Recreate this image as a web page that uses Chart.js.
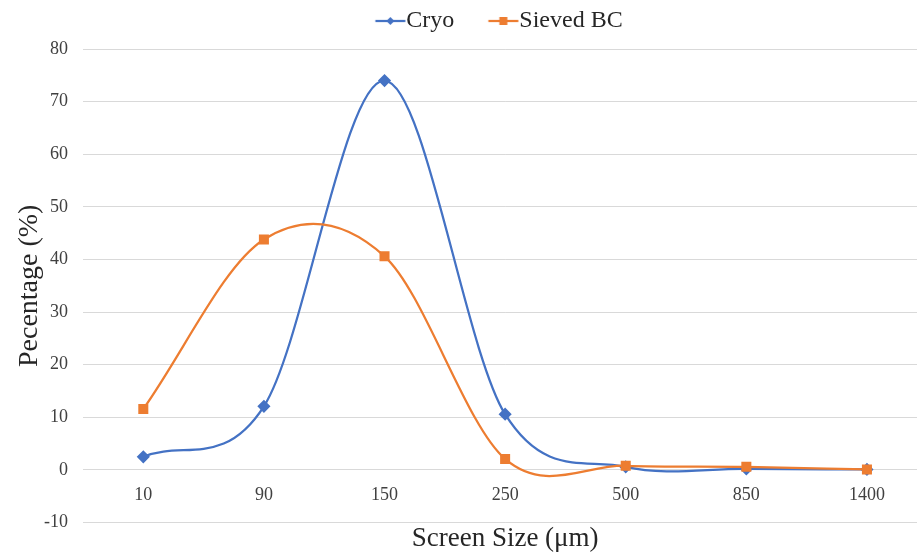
<!DOCTYPE html>
<html>
<head>
<meta charset="utf-8">
<script src="https://cdn.jsdelivr.net/npm/chart.js@4/dist/chart.umd.min.js"></script>
<style>
  html, body { margin: 0; padding: 0; background: #fff; overflow: hidden; }
  #wrap { width: 935px; height: 557px; }
</style>
</head>
<body>
<div id="wrap"><canvas id="sizeChart" width="935" height="557"></canvas></div>
<script>
// Screen sizes (µm) and % retained for each sample
const screenSizes = ['10', '90', '150', '250', '500', '850', '1400'];
const cryoValues = [2.5, 12.1, 74.0, 10.6, 0.6, 0.2, 0.1];
const sievedValues = [11.6, 43.8, 40.6, 2.1, 0.8, 0.6, 0.1];
const yTicks = [-10, 0, 10, 20, 30, 40, 50, 60, 70, 80];

const BLUE = '#4472C4';
const ORANGE = '#ED7D31';
const SERIF = '"Liberation Serif", "Times New Roman", serif';

// legend icon: short line with the marker in the middle, sitting right against the label
function legendIcon(color, shape) {
    const c = document.createElement('canvas');
    c.width = 72; c.height = 14;
    const g = c.getContext('2d');
    const x0 = 40.5, x1 = 70.5, mid = (x0 + x1) / 2;
    g.strokeStyle = color;
    g.lineWidth = 2.25;
    g.beginPath(); g.moveTo(x0, 7); g.lineTo(x1, 7); g.stroke();
    g.fillStyle = color;
    if (shape === 'diamond') {
        g.beginPath(); g.moveTo(mid, 3); g.lineTo(mid + 4, 7); g.lineTo(mid, 11); g.lineTo(mid - 4, 7); g.closePath(); g.fill();
    } else {
        g.fillRect(mid - 4, 3, 8, 8);
    }
    return c;
}

// keep the legend centred over the plot area rather than the whole canvas
const legendShift = {
    id: 'legendShift',
    afterLayout(ch) { ch.legend.left += 35; }
};

// Catmull-Rom style control points (1/6 of neighbour span, mirrored end points),
// like office "smoothed line"
const smoothLine = {
    id: 'smoothLine',
    beforeDatasetsDraw(ch) {
        ch.getSortedVisibleDatasetMetas().forEach(meta => {
            meta.dataset.updateControlPoints(ch.chartArea, meta.iScale.axis);
            const pts = meta.data;
            pts.forEach((p, i) => {
                const a = pts[i - 1] || p;
                const b = pts[i + 1] || p;
                const k = (i === 0 || i === pts.length - 1) ? 3 : 6;
                const dx = (b.x - a.x) / k;
                const dy = (b.y - a.y) / k;
                p.cp1x = p.x - dx; p.cp1y = p.y - dy;
                p.cp2x = p.x + dx; p.cp2y = p.y + dy;
            });
        });
    }
};

const ctx = document.getElementById('sizeChart').getContext('2d');
const chart = new Chart(ctx, {
    type: 'line',
    data: {
        labels: screenSizes,
        datasets: [
            {
                label: 'Cryo',
                data: cryoValues,
                borderColor: BLUE,
                backgroundColor: BLUE,
                borderWidth: 2.25,
                pointStyle: 'rectRot',
                pointRadius: 5,
                pointHoverRadius: 5,
                tension: 0.4,
                fill: false,
                order: 1,
                legendIcon: legendIcon(BLUE, 'diamond')
            },
            {
                label: 'Sieved BC',
                data: sievedValues,
                borderColor: ORANGE,
                backgroundColor: ORANGE,
                borderWidth: 2.25,
                pointStyle: 'rect',
                pointRadius: 5.5,
                pointHoverRadius: 5.5,
                tension: 0.4,
                fill: false,
                order: 0,
                legendIcon: legendIcon(ORANGE, 'square')
            }
        ]
    },
    plugins: [legendShift, smoothLine],
    options: {
        responsive: false,
        animation: false,
        layout: { padding: { top: 3, left: 0, right: 0, bottom: 0 } },
        plugins: {
            legend: {
                position: 'top',
                align: 'center',
                labels: {
                    usePointStyle: true,
                    pointStyleWidth: 47,
                    padding: 6,
                    color: '#262626',
                    font: { family: SERIF, size: 24 },
                    generateLabels: (ch) => ch.data.datasets.map((ds, i) => ({
                        text: ds.label,
                        pointStyle: ds.legendIcon,
                        fillStyle: ds.borderColor,
                        strokeStyle: ds.borderColor,
                        fontColor: '#262626',
                        lineWidth: 0,
                        hidden: false,
                        datasetIndex: i
                    }))
                }
            },
            // empty spacer between legend and plot
            subtitle: {
                display: true,
                text: '',
                weight: 500,
                font: { size: 6, lineHeight: 1 },
                padding: 0
            },
            title: {
                display: true,
                position: 'bottom',
                fullSize: false,
                text: 'Screen Size (μm)',
                color: '#262626',
                font: { family: SERIF, size: 27, weight: 'normal' },
                padding: { top: 0, bottom: 2 }
            },
            tooltip: { enabled: false }
        },
        scales: {
            x: {
                position: { y: 0 },
                offset: true,
                grid: { display: false, offset: true },
                border: { display: false },
                ticks: {
                    color: '#404040',
                    font: { family: SERIF, size: 18 },
                    padding: 6,
                    maxRotation: 0
                }
            },
            y: {
                min: -10,
                max: 80,
                afterFit: (scale) => { scale.width = 83; },
                afterBuildTicks: (scale) => { scale.ticks = yTicks.map(v => ({ value: v })); },
                grid: { color: '#D9D9D9', lineWidth: 1, drawTicks: false },
                border: { display: false },
                ticks: {
                    color: '#404040',
                    font: { family: SERIF, size: 18 },
                    padding: 15
                },
                title: {
                    display: true,
                    text: 'Pecentage (%)',
                    color: '#262626',
                    font: { family: SERIF, size: 28 },
                    padding: { top: 13, bottom: 0 }
                }
            }
        }
    }
});
</script>
</body>
</html>
